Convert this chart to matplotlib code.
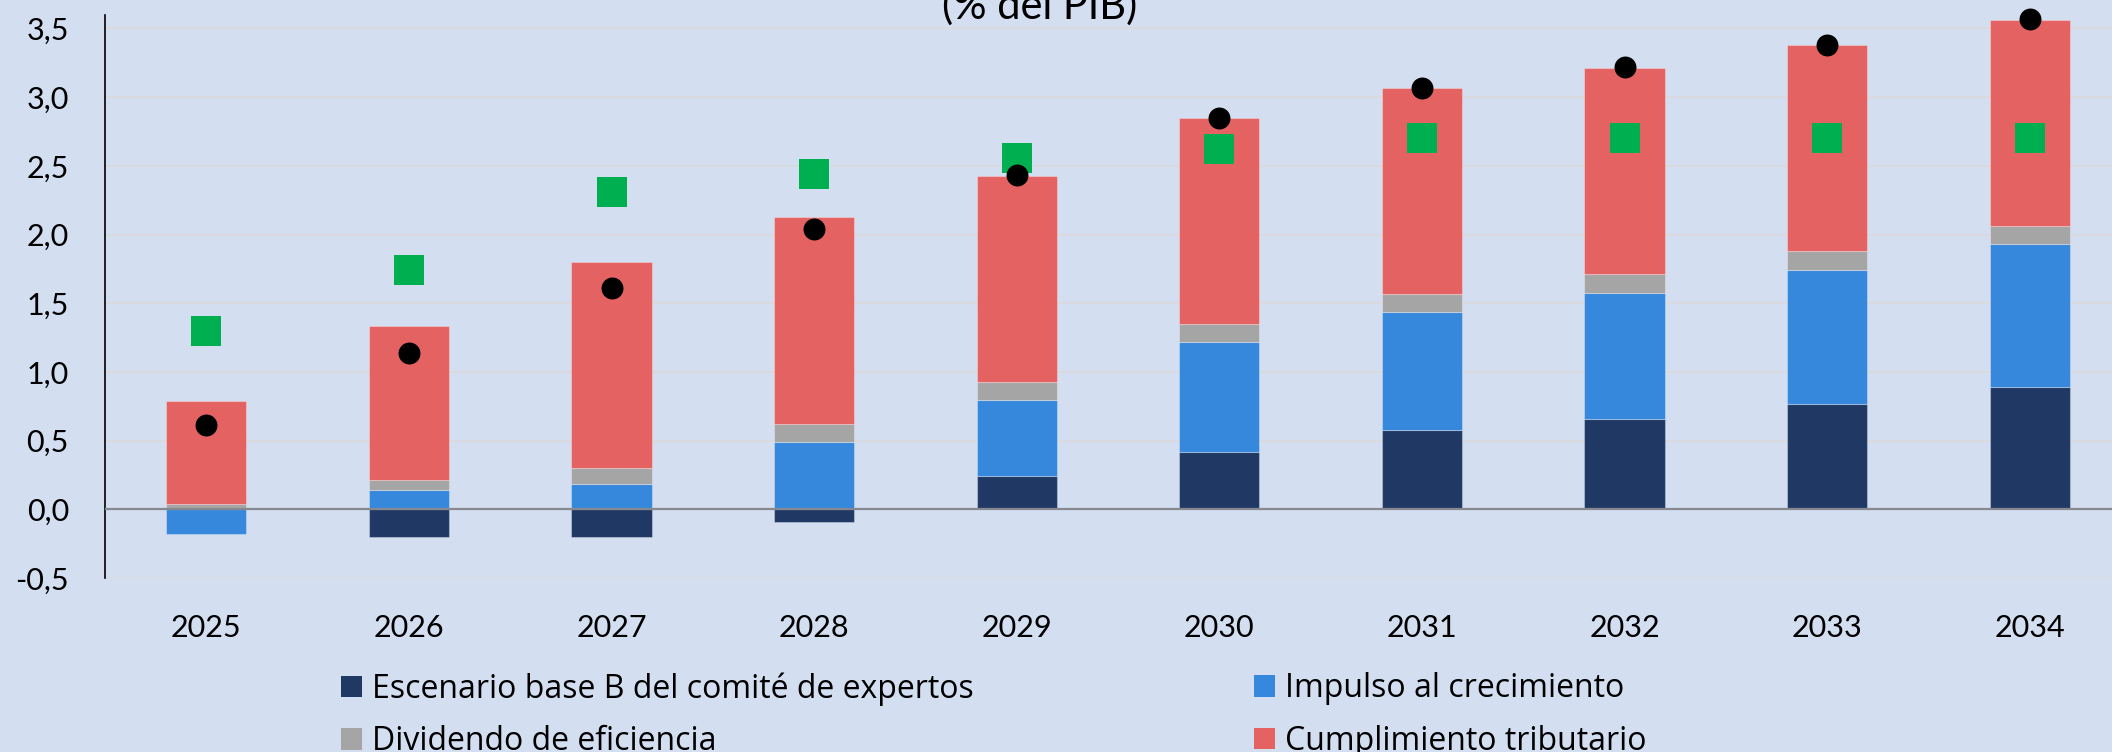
import matplotlib
matplotlib.use('Agg')
import matplotlib.pyplot as plt
import numpy as np
from matplotlib.patches import Patch
from matplotlib.ticker import FuncFormatter, MultipleLocator

plt.rcParams['font.family'] = ['Lato', 'DejaVu Sans']

# ---- data ----
years = ['2025', '2026', '2027', '2028', '2029', '2030', '2031', '2032', '2033', '2034']
escenario_base = [0.00, -0.20, -0.20, -0.09, 0.245, 0.42, 0.58, 0.66, 0.77, 0.89]
impulso = [-0.18, 0.14, 0.186, 0.49, 0.553, 0.796, 0.855, 0.917, 0.975, 1.041]
dividendo = [0.04, 0.071, 0.114, 0.131, 0.131, 0.134, 0.133, 0.136, 0.136, 0.134]
cumplimiento = [0.748, 1.124, 1.497, 1.504, 1.499, 1.499, 1.499, 1.501, 1.499, 1.496]
total_puntos = [0.61, 1.14, 1.61, 2.04, 2.43, 2.85, 3.07, 3.22, 3.38, 3.57]
cuadrados_verdes = [1.30, 1.74, 2.31, 2.44, 2.56, 2.62, 2.70, 2.70, 2.70, 2.70]

series_names = ['Escenario base B del comité de expertos', 'Impulso al crecimiento',
                'Dividendo de eficiencia', 'Cumplimiento tributario']
series_vals = [escenario_base, impulso, dividendo, cumplimiento]
series_cols = ['#203864', '#3588DC', '#A5A5A5', '#E46262']

BG = '#D3DFF1'
W, H = 2112, 752

fig = plt.figure(figsize=(W / 100, H / 100), dpi=100)
fig.patch.set_facecolor(BG)
ax = fig.add_axes([105 / W, 174 / H, (W - 105) / W, 563.3 / H])
ax.set_facecolor(BG)

x = np.arange(len(years))
pos_b = np.zeros(len(years))
neg_b = np.zeros(len(years))
for vals, col in zip(series_vals, series_cols):
    v = np.array(vals)
    bottom = np.where(v >= 0, pos_b, neg_b)
    ax.bar(x, v, width=0.395, bottom=bottom, color=col, zorder=2,
           edgecolor=(1, 1, 1, 0.3), linewidth=0.8)
    pos_b = pos_b + np.where(v >= 0, v, 0)
    neg_b = neg_b + np.where(v < 0, v, 0)

ax.axhline(0, color='#868A90', lw=1.6, zorder=3)
ax.plot(x, total_puntos, 'o', color='black', markersize=15.8, markeredgewidth=0,
        zorder=5, clip_on=False)
ax.plot(x, cuadrados_verdes, 's', color='#00B050', markersize=20.9, markeredgewidth=0,
        zorder=4, clip_on=False)

ax.set_xlim(-0.5, -0.5 + (W - 105) / 202.6)
ax.set_ylim(-0.5, 3.6)
ax.yaxis.set_major_locator(MultipleLocator(0.5))
ax.yaxis.set_major_formatter(FuncFormatter(lambda v, p: f"{v:.1f}".replace('.', ',')))
ax.set_xticks(x)
ax.set_xticklabels(years)
ax.grid(axis='y', color='#D8DADF', lw=1.5, zorder=0)
ax.set_axisbelow(True)
for s in ['top', 'right', 'bottom']:
    ax.spines[s].set_visible(False)
ax.spines['left'].set_color('black')
ax.spines['left'].set_linewidth(1.2)
ax.tick_params(axis='both', length=0, labelsize=22, colors='black')
ax.tick_params(axis='y', pad=26)
ax.tick_params(axis='x', pad=26)

fig.text(1040 / W, 733.7 / H, '(% del PIB)', ha='center', va='baseline', fontsize=30)

hs = [Patch(facecolor=c, edgecolor='none') for c in series_cols]
leg_kw = dict(frameon=False, loc='upper left', borderpad=0, borderaxespad=0,
              prop={'family': ['Open Sans', 'DejaVu Sans'], 'size': 23},
              handlelength=0.66, handleheight=0.66, handletextpad=0.3, labelspacing=0.6)
fig.legend([hs[0], hs[2]], [series_names[0], series_names[2]],
           bbox_to_anchor=(341 / W, 79.6 / H), **leg_kw)
fig.legend([hs[1], hs[3]], [series_names[1], series_names[3]],
           bbox_to_anchor=(1254 / W, 79.6 / H), **leg_kw)

fig.savefig('out.png', dpi=100, facecolor=BG)
